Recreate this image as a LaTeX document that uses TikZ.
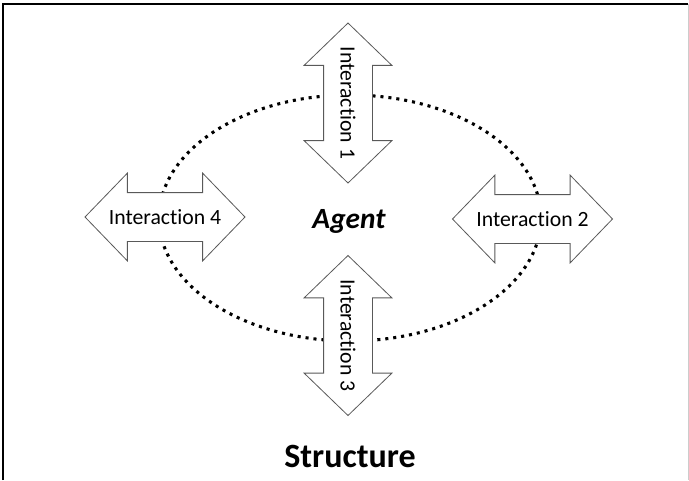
\documentclass[tikz,border=0pt]{standalone}
\usepackage{fontspec}
\setmainfont{Carlito}[Ligatures=NoCommon]
\usetikzlibrary{shapes.arrows}

\begin{document}
\begin{tikzpicture}[x=0.75pt, y=-0.75pt,
    twoway/.style={double arrow, draw=black!65, line width=0.6pt, fill=white,
      double arrow head extend=14.6pt, double arrow tip angle=92,
      minimum height=120pt, minimum width=0pt, inner xsep=0pt, inner ysep=12.5pt,
      text height=11pt, text depth=0pt, font=\fontsize{16.3}{19}\selectfont},
    dots/.style={line width=2.3pt, dash pattern=on 2.3pt off 3.7pt}]
    \useasboundingbox (0,0) rectangle (689,480);
    \draw[line width=1.3pt] (3,480) -- (3,4) -- (688,4);
    \draw[black!20, line width=0.75pt] (688,4) -- (688,480);
    \draw[dots] (350,218) ellipse [x radius=143.25pt, y radius=92.25pt];
    \node[twoway, rotate=-90] (I1) at (348,103) {\makebox[0pt]{Interaction 1}};
    \node[twoway] (I2) at (532.5,219) {\makebox[0pt]{Interaction 2}};
    \node[twoway, rotate=-90] (I3) at (348,335.5) {\makebox[0pt]{Interaction 3}};
    \node[twoway] (I4) at (165,217) {\makebox[0pt]{Interaction 4}};
    \node[font=\fontsize{22}{26}\selectfont\bfseries\itshape, anchor=base] (A) at (349,228) {Agent};
    \node[font=\fontsize{25.5}{30}\selectfont\bfseries, anchor=base] (S) at (350,467) {Structure};
\end{tikzpicture}
\end{document}
